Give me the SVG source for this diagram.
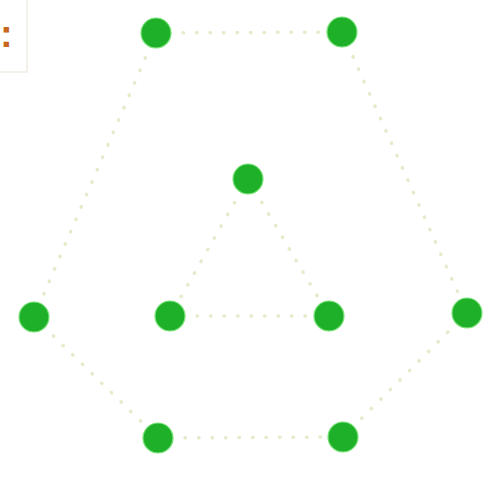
<svg xmlns="http://www.w3.org/2000/svg" width="502" height="481" viewBox="0 0 502 481">
<style>
.edge{stroke:#e4eccb;stroke-width:3.5;stroke-linecap:round;stroke-dasharray:0.5 13;fill:none}
.node{fill:#1fb02a;stroke:#7be27a;stroke-width:1.2}
.lbl{font-family:"Liberation Sans",Arial,sans-serif;font-weight:bold;font-size:38px;fill:#c8661e}
</style>
<rect width="502" height="481" fill="#ffffff"/>
<g id="label-box">
<path d="M27,0 V72 H0" fill="none" stroke="#f1ede3" stroke-width="1.5"/>
<text class="lbl" x="0" y="47">:</text>
</g>
<g id="connectors">
<line class="edge" x1="156" y1="33" x2="342" y2="32"/>
<line class="edge" x1="156" y1="33" x2="34" y2="317"/>
<line class="edge" x1="342" y1="32" x2="467" y2="313"/>
<line class="edge" x1="34" y1="317" x2="158" y2="438"/>
<line class="edge" x1="467" y1="313" x2="343" y2="437"/>
<line class="edge" x1="158" y1="438" x2="343" y2="437"/>
<line class="edge" x1="248" y1="179" x2="170" y2="316"/>
<line class="edge" x1="248" y1="179" x2="329" y2="316"/>
<line class="edge" x1="170" y1="316" x2="329" y2="316"/>
</g>
<g id="n1"><circle class="node" cx="156" cy="33" r="15"/></g>
<g id="n2"><circle class="node" cx="342" cy="32" r="15"/></g>
<g id="n3"><circle class="node" cx="248" cy="179" r="15"/></g>
<g id="n4"><circle class="node" cx="34" cy="317" r="15"/></g>
<g id="n5"><circle class="node" cx="170" cy="316" r="15"/></g>
<g id="n6"><circle class="node" cx="329" cy="316" r="15"/></g>
<g id="n7"><circle class="node" cx="467" cy="313" r="15"/></g>
<g id="n8"><circle class="node" cx="158" cy="438" r="15"/></g>
<g id="n9"><circle class="node" cx="343" cy="437" r="15"/></g>
</svg>
